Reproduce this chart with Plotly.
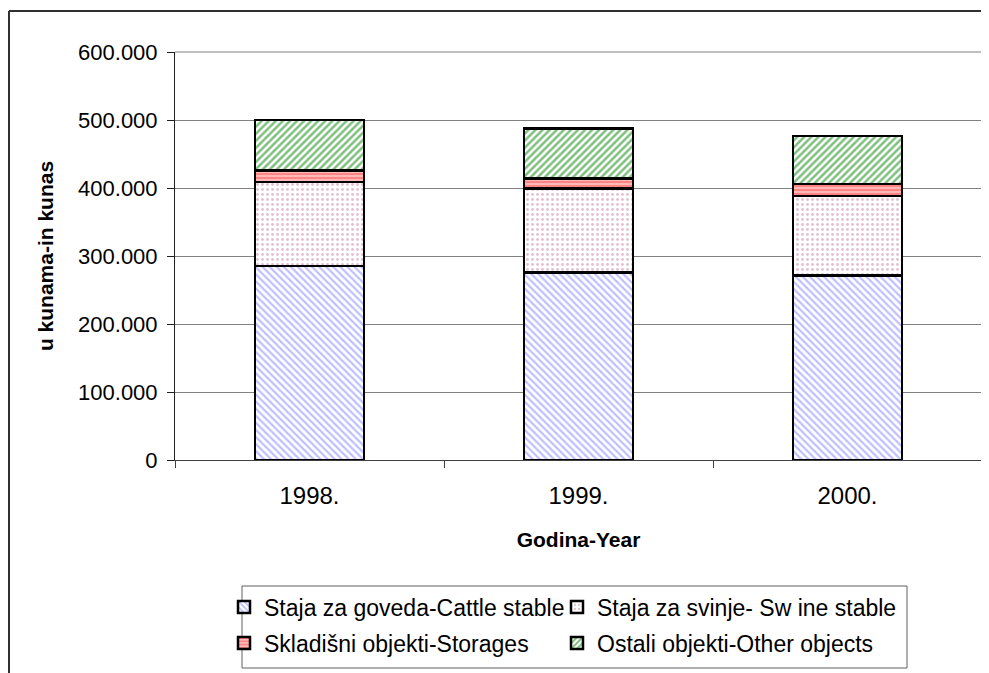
import plotly.graph_objects as go

years = ["1998.", "1999.", "2000."]
cattle = [285000, 276000, 271000]
swine = [124000, 123500, 117000]
storages = [17000, 14700, 17700]
others = [74000, 73600, 71000]

names = [
    "Staja za goveda-Cattle stable",
    "Staja za svinje- Sw ine stable",
    "Skladišni objekti-Storages",
    "Ostali objekti-Other objects",
]
y_tickvals = [0, 100000, 200000, 300000, 400000, 500000, 600000]
y_ticktext = ["0", "100.000", "200.000", "300.000", "400.000", "500.000", "600.000"]

FONT = "Liberation Sans, Arial, sans-serif"
OFF = 8  # page body margin
W, H = 989 - OFF, 673 - OFF
L, R, T, B = 175 - OFF, 7, 52 - OFF, 213
PW = W - L - R
PH = H - T - B


def px_x(px):
    return (px - OFF - L) / PW


def px_y(py):
    return (H - B - (py - OFF)) / PH


fig = go.Figure()
series = [
    (cattle, names[0], dict(shape="\\", fgcolor="#8080ff", bgcolor="white", size=5, solidity=0.45), "legend"),
    (swine, names[1], dict(shape=".", fgcolor="#c77fa3", bgcolor="white", size=5, solidity=0.25), "legend2"),
    (storages, names[2], dict(shape="-", fgcolor="#ff5050", bgcolor="#ffb8b8", size=4, solidity=0.5), "legend3"),
    (others, names[3], dict(shape="/", fgcolor="#008000", bgcolor="white", size=5, solidity=0.5), "legend4"),
]
for vals, nm, pat, lg in series:
    fig.add_trace(go.Bar(
        x=years, y=vals, name=nm, legend=lg,
        marker=dict(color="white", pattern=pat, line=dict(color="black", width=2.5)),
        width=0.405,
    ))

legend_common = dict(
    orientation="h", xanchor="left", yanchor="middle",
    font=dict(family=FONT, size=23, color="black"),
    bgcolor="rgba(0,0,0,0)", borderwidth=0,
)
col1, col2 = 224, 557
row1, row2 = 607, 643

fig.update_layout(
    width=W, height=H, autosize=False,
    margin=dict(l=L, r=R, t=T, b=B),
    paper_bgcolor="white", plot_bgcolor="white",
    barmode="stack", bargap=0.595,
    font=dict(family=FONT, color="black"),
    showlegend=True,
    legend=dict(x=px_x(col1), y=px_y(row1), **legend_common),
    legend2=dict(x=px_x(col2), y=px_y(row1), **legend_common),
    legend3=dict(x=px_x(col1), y=px_y(row2), **legend_common),
    legend4=dict(x=px_x(col2), y=px_y(row2), **legend_common),
    xaxis=dict(
        type="category", tickson="boundaries", ticks="outside", ticklen=7,
        tickcolor="#404040", showline=True, linecolor="#404040", linewidth=1,
        showgrid=False, tickfont=dict(family=FONT, size=24, color="black"),
        ticklabelstandoff=14,
        title=dict(text="<b>Godina-Year</b>", font=dict(family=FONT, size=21, color="black"), standoff=24),
    ),
    yaxis=dict(
        range=[0, 600000], tickvals=y_tickvals, ticktext=y_ticktext,
        ticks="outside", ticklen=7, tickcolor="#202020",
        showline=True, linecolor="#202020", linewidth=1,
        showgrid=True, gridcolor="#808080", gridwidth=1, zeroline=False,
        tickfont=dict(family=FONT, size=22, color="black"),
        ticklabelstandoff=5,
        title=dict(text="<b>u kunama-in kunas</b>", font=dict(family=FONT, size=21, color="black"), standoff=18),
    ),
    shapes=[
        dict(type="line", xref="paper", yref="paper", x0=1, x1=1, y0=0, y1=1,
             line=dict(color="#808080", width=2)),
        dict(type="line", xref="paper", yref="paper", x0=0, x1=1, y0=1, y1=1,
             line=dict(color="#808080", width=1)),
        dict(type="rect", xref="paper", yref="paper",
             x0=px_x(242), x1=px_x(907), y0=px_y(668), y1=px_y(586),
             line=dict(color="#606060", width=1)),
        dict(type="line", xref="paper", yref="paper",
             x0=px_x(9), x1=px_x(1000), y0=px_y(11), y1=px_y(11),
             line=dict(color="#303030", width=2)),
        dict(type="line", xref="paper", yref="paper",
             x0=px_x(9), x1=px_x(9), y0=px_y(11), y1=px_y(690),
             line=dict(color="#303030", width=2)),
    ],
)

fig.write_html("out.html")
